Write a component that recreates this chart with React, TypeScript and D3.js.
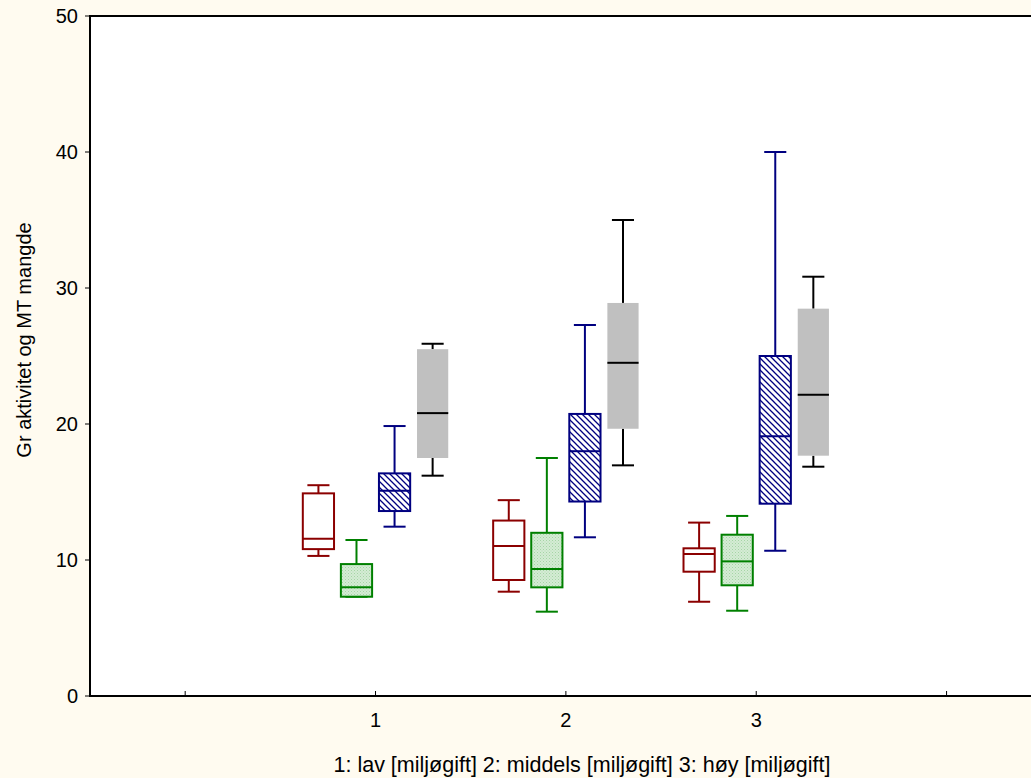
import React from "react";
import * as d3 from "d3";

// Categories on the x axis (pollutant level groups)
const categories = [1, 2, 3];
const xTickValues = [0, 1, 2, 3, 4];
const xTickLabels = ["", "1", "2", "3", ""];
const yTickValues = [0, 10, 20, 30, 40, 50];

// Box statistics per series: whisker low, Q1, median, Q3, whisker high (one per category)
const seriesA_min = [10.3, 7.67, 6.93];
const seriesA_q1 = [10.8, 8.53, 9.14];
const seriesA_med = [11.57, 11.03, 10.44];
const seriesA_q3 = [14.9, 12.9, 10.86];
const seriesA_max = [15.5, 14.4, 12.75];

const seriesB_min = [7.3, 6.2, 6.27];
const seriesB_q1 = [7.3, 7.99, 8.14];
const seriesB_med = [8.0, 9.34, 9.9];
const seriesB_q3 = [9.7, 12.0, 11.86];
const seriesB_max = [11.47, 17.5, 13.24];

const seriesC_min = [12.45, 11.67, 10.68];
const seriesC_q1 = [13.6, 14.3, 14.14];
const seriesC_med = [15.1, 18.0, 19.1];
const seriesC_q3 = [16.37, 20.74, 25.0];
const seriesC_max = [19.85, 27.28, 40.0];

const seriesD_min = [16.2, 16.96, 16.86];
const seriesD_q1 = [17.5, 19.65, 17.67];
const seriesD_med = [20.8, 24.5, 22.15];
const seriesD_q3 = [25.5, 28.9, 28.48];
const seriesD_max = [25.9, 35.0, 30.83];

const yLabel = "Gr aktivitet og MT mangde";
const xLabel = "1: lav [miljøgift] 2: middels [miljøgift] 3: høy [miljøgift]";

type Style = { stroke: string; fill: string; boxStroke: string; whisker: string };

const series = [
  { min: seriesA_min, q1: seriesA_q1, med: seriesA_med, q3: seriesA_q3, max: seriesA_max,
    style: { stroke: "#8b0000", fill: "#ffffff", boxStroke: "#8b0000", whisker: "#8b0000" } as Style },
  { min: seriesB_min, q1: seriesB_q1, med: seriesB_med, q3: seriesB_q3, max: seriesB_max,
    style: { stroke: "#008000", fill: "url(#greenFill)", boxStroke: "#008000", whisker: "#008000" } as Style },
  { min: seriesC_min, q1: seriesC_q1, med: seriesC_med, q3: seriesC_q3, max: seriesC_max,
    style: { stroke: "#000080", fill: "url(#blueHatch)", boxStroke: "#000080", whisker: "#000080" } as Style },
  { min: seriesD_min, q1: seriesD_q1, med: seriesD_med, q3: seriesD_q3, max: seriesD_max,
    style: { stroke: "#000000", fill: "#c0c0c0", boxStroke: "none", whisker: "#000000" } as Style },
];

const W = 1031;
const H = 778;
const left = 90;
const top = 16;
const bottom = 696;

const x = d3.scaleLinear().domain([-0.5, 4.5]).range([left, 1041.75]);
const y = d3.scaleLinear().domain([0, 50]).range([bottom, top]);

const offsetStep = 0.2; // spacing between series within a group (category units)
const halfBox = 0.082;
const halfCap = 0.058;

const font = "Arial, 'Liberation Sans', Helvetica, sans-serif";

export default function App() {
  return (
    <svg
      width={W}
      height={H}
      style={{ position: "absolute", left: 0, top: 0, display: "block" }}
      fontFamily={font}
    >
      <defs>
        <pattern id="blueHatch" width="6" height="6" patternUnits="userSpaceOnUse">
          <rect width="6" height="6" fill="#ffffff" />
          <path d="M-1,-1 L7,7 M-1,5 L1,7 M5,-1 L7,1" stroke="#000080" strokeWidth="1.3" />
        </pattern>
        <pattern id="greenFill" width="3" height="3" patternUnits="userSpaceOnUse">
          <rect width="3" height="3" fill="#d4ecd4" />
          <rect x="0" y="0" width="1" height="1" fill="#a6d4a6" />
          <rect x="1.5" y="1.5" width="1" height="1" fill="#b4dab4" />
        </pattern>
      </defs>
      <rect width={W} height={H} fill="#fffbf0" />
      <rect x={left} y={top} width={W - left} height={bottom - top} fill="#ffffff" />

      {/* boxes */}
      {series.map((s, si) =>
        categories.map((c, ci) => {
          const cx = c + (si - 1.5) * offsetStep;
          const x0 = x(cx - halfBox);
          const x1 = x(cx + halfBox);
          const xm = x(cx);
          const c0 = x(cx - halfCap);
          const c1 = x(cx + halfCap);
          const st = s.style;
          return (
            <g key={`${si}-${ci}`}>
              <line x1={xm} x2={xm} y1={y(s.max[ci])} y2={y(s.q3[ci])} stroke={st.whisker} strokeWidth={2} />
              <line x1={xm} x2={xm} y1={y(s.q1[ci])} y2={y(s.min[ci])} stroke={st.whisker} strokeWidth={2} />
              <line x1={c0} x2={c1} y1={y(s.max[ci])} y2={y(s.max[ci])} stroke={st.whisker} strokeWidth={2} />
              <line x1={c0} x2={c1} y1={y(s.min[ci])} y2={y(s.min[ci])} stroke={st.whisker} strokeWidth={2} />
              <rect
                x={x0}
                y={y(s.q3[ci])}
                width={x1 - x0}
                height={y(s.q1[ci]) - y(s.q3[ci])}
                fill={st.fill}
                stroke={st.boxStroke}
                strokeWidth={2}
              />
              <line x1={x0} x2={x1} y1={y(s.med[ci])} y2={y(s.med[ci])} stroke={st.stroke} strokeWidth={2} />
            </g>
          );
        })
      )}

      {/* frame */}
      <line x1={left} x2={W} y1={top} y2={top} stroke="#000" strokeWidth={2} />
      <line x1={left} x2={W} y1={bottom} y2={bottom} stroke="#000" strokeWidth={2} />
      <line x1={left} x2={left} y1={top - 1} y2={bottom + 1} stroke="#000" strokeWidth={2} />

      {/* y axis */}
      {yTickValues.map((v) => (
        <g key={`y${v}`}>
          <line x1={left - 5} x2={left} y1={y(v)} y2={y(v)} stroke="#000" strokeWidth={1} />
          <text x={78} y={y(v)} dy="0.35em" textAnchor="end" fontSize={20} fill="#000">
            {v}
          </text>
        </g>
      ))}

      {/* x axis */}
      {xTickValues.map((v, i) => (
        <g key={`x${v}`}>
          <line x1={x(v)} x2={x(v)} y1={bottom - 5} y2={bottom} stroke="#000" strokeWidth={1} />
          <text x={x(v)} y={727} textAnchor="middle" fontSize={20} fill="#000">
            {xTickLabels[i]}
          </text>
        </g>
      ))}

      <text
        transform={`translate(31,340) rotate(-90)`}
        textAnchor="middle"
        fontSize={20}
        fill="#000"
      >
        {yLabel}
      </text>
      <text x={582} y={772} textAnchor="middle" fontSize={21.5} fill="#000">
        {xLabel}
      </text>
    </svg>
  );
}
